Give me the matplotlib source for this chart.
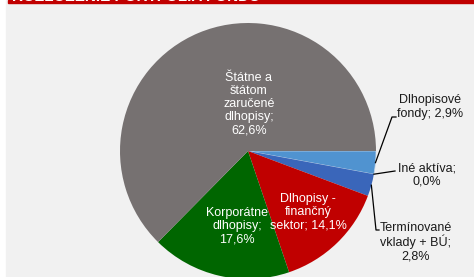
import numpy as np
import matplotlib.pyplot as plt
from matplotlib.patches import Rectangle

plt.rcParams['font.family'] = ['Liberation Sans', 'DejaVu Sans']

# slices, clockwise starting from the right (3 o'clock)
labels = ['Dlhopisové fondy', 'Iné aktíva', 'Termínované vklady + BÚ',
          'Dlhopisy - finančný sektor', 'Korporátne dlhopisy',
          'Štátne a štátom zaručené dlhopisy']
values = [2.9, 0.0, 2.8, 14.1, 17.6, 62.6]
colors = ['#5093d0', '#3562b8', '#3a66ba', '#c00000', '#006600', '#767171']

def pct(v):
    return ('%.1f' % v).replace('.', ',') + '%'

# how each label wraps in the picture
texts = ['Dlhopisové\nfondy; ' + pct(values[0]),
         'Iné aktíva;\n' + pct(values[1]),
         'Termínované\nvklady + BÚ;\n' + pct(values[2]),
         'Dlhopisy -\nfinančný\nsektor; ' + pct(values[3]),
         'Korporátne\ndlhopisy;\n' + pct(values[4]),
         'Štátne a\nštátom\nzaručené\ndlhopisy;\n' + pct(values[5])]

fig = plt.figure(figsize=(4.74, 2.77), dpi=100, facecolor='white')
ax = fig.add_axes([0, 0, 1, 1])

# background panel and red header strip
ax.add_patch(Rectangle((6, 0), 468, 277, color='#f1f1f1', zorder=0))
ax.add_patch(Rectangle((8, 274), 466, 3, color='#c00000', zorder=1))
ax.text(12, 276, 'ROZLOŽENIE PORTFÓLIA FONDU', color='white', fontsize=11,
        fontweight='bold', va='baseline', ha='left', zorder=2, clip_on=True)

cx, cy, r = 248, 126, 128
wedges, _ = ax.pie(values, colors=colors, startangle=0, counterclock=False,
                   center=(cx, cy), radius=r, frame=True,
                   wedgeprops=dict(linewidth=0))
wedges[0].set_edgecolor('#c8d8ea')
wedges[0].set_linewidth(0.5)
ax.set_xlim(0, 474)
ax.set_ylim(0, 277)
ax.set_aspect('equal')
ax.axis('off')

# labels inside the pie
inside = {3: (308, 65), 4: (237, 51), 5: (249, 173)}
for i, (x, y) in inside.items():
    ax.text(x, y, texts[i], color='white', fontsize=9, ha='center', va='center',
            linespacing=1.12, zorder=5)

# labels outside with leader lines
outside = {0: ((430, 170), [(392, 160), (396, 160)]),
           1: ((427, 102), [(395, 106)]),
           2: ((416, 35), [(376, 47), (379, 47)])}
cum = np.cumsum([0] + values[:-1])
total = sum(values)
for i, ((x, y), pts) in outside.items():
    mid = np.deg2rad(-360 * (cum[i] + values[i] / 2) / total)
    ex, ey = cx + r * np.cos(mid), cy + r * np.sin(mid)
    xs = [ex] + [p[0] for p in pts]
    ys = [ey] + [p[1] for p in pts]
    ax.plot(xs, ys, color='black', linewidth=0.9, zorder=4)
    ax.text(x, y, texts[i], color='#1a1a1a', fontsize=9, ha='center', va='center',
            linespacing=1.12, zorder=5)

fig.savefig('out.png', dpi=100, facecolor='white')
